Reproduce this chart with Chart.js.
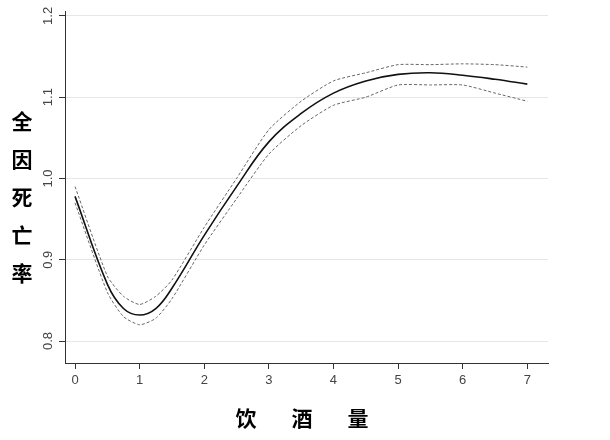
<!DOCTYPE html>
<html><head><meta charset="utf-8">
<script src="https://cdn.jsdelivr.net/npm/chart.js@4/dist/chart.umd.min.js"></script>
<style>body{margin:0;background:#fff}#w{width:610px;height:440px}</style></head>
<body><div id="w"><canvas id="c"></canvas></div>
<script>
const xs=[0,0.5,0.75,1,1.25,1.5,2,2.5,3,3.5,4,4.5,5,5.5,6,6.5,7];
const mid=[0.978,0.87,0.84,0.832,0.84,0.865,0.93,0.99,1.045,1.08,1.105,1.12,1.128,1.13,1.127,1.122,1.116];
const upper=[0.99,0.88,0.855,0.845,0.855,0.875,0.94,1.0,1.06,1.095,1.12,1.13,1.14,1.14,1.141,1.14,1.137];
const lower=[0.97,0.86,0.83,0.82,0.828,0.852,0.918,0.975,1.03,1.065,1.09,1.1,1.115,1.115,1.115,1.105,1.095];
const yTicks=[0.8,0.9,1.0,1.1,1.2];
const xTicks=[0,1,2,3,4,5,6,7];
const xTitle=['饮','酒','量'];
const yTitle=['全','因','死','亡','率'];
const pts=a=>xs.map((x,i)=>({x,y:a[i]}));
const labelPlugin={id:'lp',afterDraw(ch){
 const c=ch.ctx,y=ch.scales.y;
 c.save();c.fillStyle='#444';c.font='13px "Liberation Sans",Arial';
 yTicks.forEach(v=>{const py=y.getPixelForValue(v);c.save();c.translate(48,py);c.rotate(-Math.PI/2);c.textAlign='center';c.textBaseline='middle';c.fillText(v.toFixed(1),0,0);c.restore();});
 c.fillStyle='#000';c.font='bold 21px "Noto Sans CJK SC"';c.textAlign='center';c.textBaseline='middle';
 yTitle.forEach((t,i)=>c.fillText(t,22,121+i*38));
 xTitle.forEach((t,i)=>c.fillText(t,246+i*56,418));
 c.restore();}};
new Chart(document.getElementById('c'),{type:'line',
 data:{datasets:[
  {data:pts(mid),borderColor:'#111',borderWidth:1.6,tension:0.4,pointRadius:0},
  {data:pts(upper),borderColor:'#666',borderWidth:1,borderDash:[3,2],tension:0.2,pointRadius:0},
  {data:pts(lower),borderColor:'#666',borderWidth:1,borderDash:[3,2],tension:0.2,pointRadius:0}]},
 options:{responsive:true,maintainAspectRatio:false,animation:false,
  layout:{padding:{top:11,right:62,left:0,bottom:0}},
  plugins:{legend:{display:false},tooltip:{enabled:false}},
  scales:{
   x:{type:'linear',min:-0.155,max:7.32,afterFit:s=>{s.height=77;},
    afterBuildTicks:s=>{s.ticks=xTicks.map(v=>({value:v}));},
    grid:{display:true,drawOnChartArea:false,tickLength:6,color:'#333'},border:{color:'#333'},
    ticks:{color:'#444',font:{size:13,family:'"Liberation Sans",Arial'},padding:4}},
   y:{min:0.773,max:1.206,afterFit:s=>{s.width=65;},
    afterBuildTicks:s=>{s.ticks=yTicks.map(v=>({value:v}));},
    grid:{color:'#e6e6e6',tickColor:'#333',tickLength:6},border:{color:'#333'},
    ticks:{display:false}}}},
 plugins:[labelPlugin]});
</script></body></html>
